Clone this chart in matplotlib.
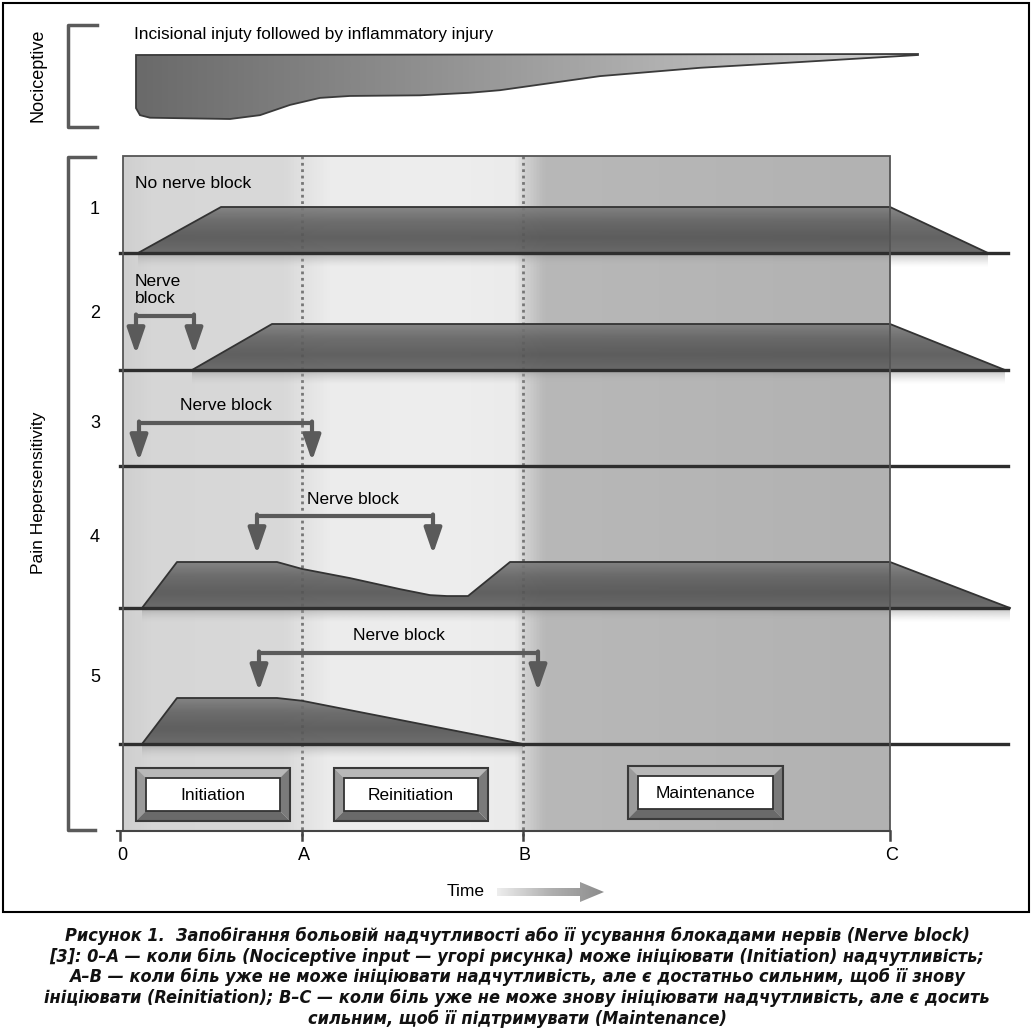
import numpy as np
import matplotlib.pyplot as plt
from matplotlib import font_manager
from matplotlib.patches import Polygon, Rectangle
from matplotlib.colors import LinearSegmentedColormap

# time axis (1 time unit = 10 px), milestones
milestones = ["0", "A", "B", "C"]
milestone_t = [0.0, 18.2, 40.3, 77.0]

# nociceptive input shown on top
noci_t = [1.6, 2.0, 3.0, 11.0, 14.0, 17.0, 20.0, 23.0, 30.0, 35.0, 38.0, 48.0, 58.0, 68.0, 79.8]
noci_level = [0.83, 0.94, 0.98, 1.0, 0.94, 0.78, 0.67, 0.64, 0.63, 0.59, 0.55, 0.33, 0.20, 0.11, 0.0]

# pain hypersensitivity for the five scenarios
row_names = ["1", "2", "3", "4", "5"]
hyper_t = [
    [1.8, 10.1, 77.0, 86.8],
    [7.2, 15.2, 77.0, 88.5],
    [],
    [2.2, 5.7, 15.7, 18.2, 23.0, 28.0, 31.0, 32.7, 34.8, 39.0, 77.0, 89.0],
    [2.2, 5.7, 15.7, 18.2, 40.3],
]
hyper_level = [
    [0, 1, 1, 0],
    [0, 1, 1, 0],
    [],
    [0, 1, 1, 0.85, 0.65, 0.41, 0.28, 0.26, 0.26, 1, 1, 0],
    [0, 1, 1, 0.94, 0],
]
block_start = [None, 1.6, 1.9, 13.7, 13.9]
block_end = [None, 7.4, 19.2, 31.3, 41.8]

phases = ["Initiation", "Reinitiation", "Maintenance"]
phase_start = [1.6, 21.4, 50.8]
phase_end = [17.0, 36.8, 66.3]

caption = [
    "Рисунок 1.  Запобігання больовій надчутливості або її усування блокадами нервів (Nerve block)",
    "[3]: 0–A — коли біль (Nociceptive input — угорі рисунка) може ініціювати (Initiation) надчутливість;",
    "A–B — коли біль уже не може ініціювати надчутливість, але є достатньо сильним, щоб її знову",
    "ініціювати (Reinitiation); B–C — коли біль уже не може знову ініціювати надчутливість, але є досить",
    "сильним, щоб її підтримувати (Maintenance)",
]

# layout (pixels)
baselines = [253, 370, 466, 608, 744]
label_y = [210, 314, 423, 537, 678]
bracket_y = [None, 316, 423, 516, 653]
row_h = 46
DARK = "#2e2e2e"
ARROW = "#5a5a5a"
FONT = "Liberation Sans"
FS = 12.5


def px(x):
    return (x - 120) / 10.0


def pick_caption_font():
    # a narrow bold italic face if one is installed, else Liberation Sans
    cands = []
    for f in font_manager.fontManager.ttflist:
        narrow = ("narrow" in f.name.lower() or "condensed" in f.name.lower()
                  or "condensed" in str(f.stretch))
        if narrow and f.style in ("italic", "oblique") and f.weight in (600, 700, "bold", "semibold"):
            cands.append(f)
    pref = ["Liberation Sans Narrow", "DejaVu Sans Condensed", "DejaVu Sans"]
    cands.sort(key=lambda f: pref.index(f.name) if f.name in pref else 9)
    if cands:
        return font_manager.FontProperties(fname=cands[0].fname)
    return font_manager.FontProperties(family=FONT, weight="bold", style="italic")


def grad_fill(ax, verts, extent, stops, vertical, z, alpha=1.0):
    poly = Polygon(verts, closed=True, facecolor="none", edgecolor="none")
    ax.add_patch(poly)
    cmap = LinearSegmentedColormap.from_list("g", stops)
    g = np.linspace(0, 1, 256)
    arr = g[:, None] if vertical else g[None, :]
    im = ax.imshow(arr, cmap=cmap, extent=extent, aspect="auto", origin="upper",
                   interpolation="bilinear", zorder=z, alpha=alpha)
    im.set_clip_path(poly)


fig = plt.figure(figsize=(10.34, 10.31), dpi=100)
ax = fig.add_axes([0, 0, 1, 1])
ax.axis("off")
ax.set_xlim(px(0), px(1034))
ax.set_ylim(1031, 0)

# outer frame
ax.add_patch(Rectangle((px(3), 3), px(1029) - px(3), 909, fill=False, ec="black", lw=1.5, zorder=1))

# nociceptive
ax.plot([px(97), px(68), px(68), px(97)], [25, 25, 127, 127], color=ARROW, lw=2.5, zorder=2)
ax.text(px(38), 75, "Nociceptive", rotation=90, ha="center", va="center", fontsize=13, family=FONT)
ax.text(px(134), 35, "Incisional injuty followed by inflammatory injury", ha="left", va="center",
        fontsize=12.4, family=FONT)
top_y = 55
nverts = [(noci_t[0], top_y), (noci_t[-1], top_y - 1)]
nverts += [(t, top_y + lv * 64) for t, lv in zip(noci_t[::-1], noci_level[::-1])]
grad_fill(ax, nverts, (noci_t[0], noci_t[-1], 120, top_y - 2),
          ["#6a6a6a", "#8c8c8c", "#b0b0b0", "#cfcfcf"], False, 3)
ax.add_patch(Polygon(nverts, closed=True, fill=False, ec="#3a3a3a", lw=1.3, zorder=4))

# main panel background
panel_top, panel_bot = 156, 831
t0, t1 = px(123), milestone_t[3]
stops = []
for t, c in [(t0, "#cfcfcf"), (3, "#d6d6d6"), (16.5, "#d9d9d9"), (18.2, "#e2e2e2"), (21, "#ececec"),
             (33, "#eeeeee"), (39.5, "#ebebeb"), (40.6, "#d0d0d0"), (42.5, "#b8b8b8"), (t1, "#b2b2b2")]:
    stops.append(((t - t0) / (t1 - t0), c))
ax.imshow(np.linspace(0, 1, 512)[None, :], cmap=LinearSegmentedColormap.from_list("bg", stops),
          extent=(t0, t1, panel_bot, panel_top), aspect="auto", origin="upper", zorder=1)
ax.add_patch(Rectangle((t0, panel_top), t1 - t0, panel_bot - panel_top, fill=False, ec="#555555",
                       lw=1.3, zorder=6))

# dotted lines at A and B
for t in milestone_t[1:3]:
    ax.plot([t, t], [panel_top, panel_bot + 8], color="#777777", lw=2, ls=(0, (1, 1.3)), zorder=2)

# pain hypersensitivity bracket
ax.plot([px(95), px(68), px(68), px(95)], [157, 157, 830, 830], color=ARROW, lw=2.5, zorder=2)
ax.text(px(38), 493, "Pain Hepersensitivity", rotation=90, ha="center", va="center", fontsize=12.5,
        family=FONT)

for i, name in enumerate(row_names):
    base = baselines[i]
    ax.text(px(95), label_y[i], name, ha="center", va="center", fontsize=13, family=FONT)
    if hyper_t[i]:
        verts = [(t, base - lv * row_h) for t, lv in zip(hyper_t[i], hyper_level[i])]
        # soft shadow under the baseline
        grad_fill(ax, [(hyper_t[i][0], base), (hyper_t[i][-1], base), (hyper_t[i][-1], base + 14),
                       (hyper_t[i][0], base + 14)],
                  (hyper_t[i][0], hyper_t[i][-1], base + 14, base),
                  [(0.55, 0.55, 0.55, 0.55), (0.75, 0.75, 0.75, 0.0)], True, 2)
        grad_fill(ax, verts, (hyper_t[i][0], hyper_t[i][-1], base, base - row_h - 1),
                  ["#7e7e7e", "#626262", "#555555", "#626262"], True, 3, alpha=0.92)
        ax.plot(hyper_t[i], [v[1] for v in verts], color="#333333", lw=1.3, zorder=4)
    ax.plot([px(120), px(1008)], [base, base], color=DARK, lw=2.4, zorder=5)
    if block_start[i] is not None:
        by = bracket_y[i]
        ax.plot([block_start[i], block_end[i]], [by, by], color=ARROW, lw=3, zorder=6,
                solid_capstyle="butt")
        for t in (block_start[i], block_end[i]):
            ax.annotate("", xy=(t, by + 38), xytext=(t, by - 1.5),
                        arrowprops=dict(arrowstyle="-|>,head_width=0.38,head_length=1.1", color=ARROW,
                                        lw=3, mutation_scale=14, shrinkA=0, shrinkB=0), zorder=6)
        if i == 1:
            ax.text(px(135), 290, "Nerve\nblock", ha="left", va="center", fontsize=FS, family=FONT,
                    linespacing=1.15, zorder=7)
        else:
            mid = (block_start[i] + block_end[i]) / 2 + (0.8 if i == 3 else 0)
            ax.text(mid, by - 17, "Nerve block", ha="center", va="center", fontsize=FS, family=FONT,
                    zorder=7)

ax.text(px(135), 183, "No nerve block", ha="left", va="center", fontsize=FS, family=FONT, zorder=7)

# phase boxes
for name, a, b in zip(phases, phase_start, phase_end):
    ytop, ybot = (768, 821) if name != "Maintenance" else (766, 819)
    d = 1.0
    dy = 10
    ax.add_patch(Polygon([(a, ytop), (b, ytop), (b - d, ytop + dy), (a + d, ytop + dy)], fc="#b8b8b8",
                         ec="none", zorder=7))
    ax.add_patch(Polygon([(a, ytop), (a + d, ytop + dy), (a + d, ybot - dy), (a, ybot)], fc="#9a9a9a",
                         ec="none", zorder=7))
    ax.add_patch(Polygon([(a, ybot), (a + d, ybot - dy), (b - d, ybot - dy), (b, ybot)], fc="#6a6a6a",
                         ec="none", zorder=7))
    ax.add_patch(Polygon([(b, ytop), (b, ybot), (b - d, ybot - dy), (b - d, ytop + dy)], fc="#7a7a7a",
                         ec="none", zorder=7))
    ax.add_patch(Rectangle((a, ytop), b - a, ybot - ytop, fill=False, ec="#3a3a3a", lw=1.5, zorder=8))
    ax.add_patch(Rectangle((a + d, ytop + dy), b - a - 2 * d, ybot - ytop - 2 * dy, fc="white",
                           ec="#333333", lw=1.3, zorder=8))
    ax.text((a + b) / 2, (ytop + ybot) / 2 + 1, name, ha="center", va="center", fontsize=FS,
            family=FONT, zorder=9)

# time axis
ax.plot([px(117), milestone_t[3]], [panel_bot, panel_bot], color="#444444", lw=1.5, zorder=6)
for lab, t in zip(milestones, milestone_t):
    ax.plot([t, t], [panel_bot, panel_bot + 9], color="#444444", lw=1.8, zorder=6)
    ax.text(t + 0.2, 856, lab, ha="center", va="center", fontsize=13, family=FONT)

ax.text(px(447), 891, "Time", ha="left", va="center", fontsize=FS, family=FONT)
shaft_y, tail, head_start, tip = 892, px(497), px(580), px(604)
averts = [(tail, shaft_y - 4), (head_start, shaft_y - 4), (head_start, shaft_y - 10), (tip, shaft_y),
          (head_start, shaft_y + 10), (head_start, shaft_y + 4), (tail, shaft_y + 4)]
grad_fill(ax, averts, (tail, tip, shaft_y + 10, shaft_y - 10), ["#eeeeee", "#b0b0b0", "#8c8c8c"], False, 3)

# caption, sized so that the first line spans the same width as in the print
cap_font = pick_caption_font()
cap_texts = []
for k, line in enumerate(caption):
    cap_texts.append(ax.text(px(517), 936 + k * 20.7, line, ha="center", va="center", fontsize=14,
                             fontproperties=cap_font, color="#111111"))
for tx in cap_texts:
    tx.set_fontsize(14)
renderer = fig.canvas.get_renderer()
w = cap_texts[1].get_window_extent(renderer).width
size = min(14.5, 14 * 935 / w)
for tx in cap_texts:
    tx.set_fontsize(size)

fig.savefig("out.png", dpi=100)
